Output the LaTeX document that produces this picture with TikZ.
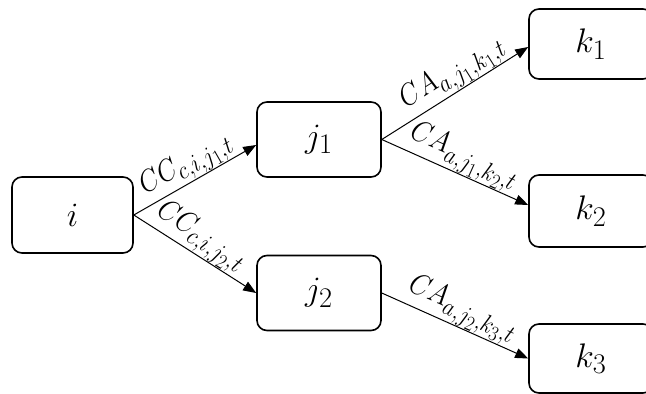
\documentclass[tikz,border=0pt]{standalone}
\usepackage{graphicx}
\usetikzlibrary{arrows.meta}
\newcommand{\boxlabel}[1]{\scalebox{1.37}{\Huge$#1$}}
\newcommand{\costlabel}[1]{\scalebox{1.07}[1.22]{\Huge$#1$}}
\begin{document}
\begin{tikzpicture}[x=1pt,y=-1pt,
  box/.style={draw, line width=1.6pt, rounded corners=10pt,
    minimum width=124pt, minimum height=75pt, inner sep=0pt},
  link/.style={line width=1pt, -{Triangle[length=13pt,width=10pt]}},
  lbl/.style={sloped, above, inner sep=0.5pt}]
\useasboundingbox (0,0) rectangle (646,394);
\clip (0,0) rectangle (646,394);

% nodes
\node[box, minimum width=121pt, minimum height=76pt] (i) at (72.5,215) {\boxlabel{i}};
\node[box] (j1) at (319,139.5) {\boxlabel{j_1}};
\node[box] (j2) at (319,293) {\boxlabel{j_2}};
\node[box, minimum height=70pt] (k1) at (591,44) {\boxlabel{k_1}};
\node[box, minimum height=72pt] (k2) at (591,211) {\boxlabel{k_2}};
\node[box, minimum height=69pt] (k3) at (591,358.5) {\boxlabel{k_3}};

% connectors
\draw[link] (i.east) -- node[lbl, pos=0.5] {\costlabel{CC_{c,i,j_1,t}}} ([yshift=-5.5pt]j1.west);
\draw[link] (i.east) -- node[lbl, pos=0.47] {\costlabel{CC_{c,i,j_2,t}}} (j2.west);
\draw[link] (j1.east) -- node[lbl, pos=0.55] {\costlabel{CA_{a,j_1,k_1,t}}} ([yshift=-3pt]k1.west);
\draw[link] (j1.east) -- node[lbl, pos=0.51] {\costlabel{CA_{a,j_1,k_2,t}}} ([yshift=6pt]k2.west);
\draw[link] (j2.east) -- node[lbl, pos=0.5] {\costlabel{CA_{a,j_2,k_3,t}}} (k3.west);
\end{tikzpicture}
\end{document}
